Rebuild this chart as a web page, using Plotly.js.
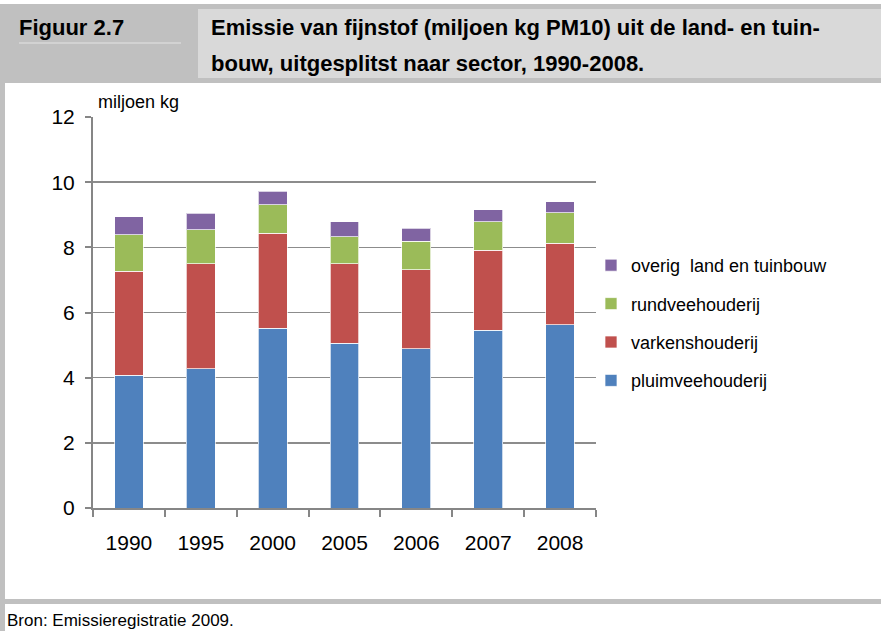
<!DOCTYPE html>
<html>
<head>
<meta charset="utf-8">
<script src="https://cdn.plot.ly/plotly-3.0.1.min.js"></script>
<style>
  html, body { margin: 0; padding: 0; background: #ffffff; }
  #chart { width: 881px; height: 631px; }
</style>
</head>
<body>
<div id="chart"></div>
<script>
// Emissie van fijnstof (miljoen kg PM10) per sector
const years = ['1990', '1995', '2000', '2005', '2006', '2007', '2008'];
const pluimvee = [4.08, 4.27, 5.51, 5.06, 4.89, 5.46, 5.62];
const varkens  = [3.18, 3.23, 2.93, 2.44, 2.42, 2.45, 2.51];
const rundvee  = [1.12, 1.04, 0.86, 0.83, 0.87, 0.88, 0.93];
const overig   = [0.56, 0.51, 0.42, 0.46, 0.41, 0.36, 0.34];
const seriesNames = ['pluimveehouderij', 'varkenshouderij', 'rundveehouderij', 'overig  land en tuinbouw'];
const seriesColors = ['#4F81BD', '#C0504D', '#9BBB59', '#8064A2'];
const yTicks = [0, 2, 4, 6, 8, 10, 12];

const W = 881, H = 631;
const M = { l: 93, r: 285, t: 117, b: 123 };
const PW = W - M.l - M.r, PH = H - M.t - M.b;
// pixel -> paper coordinates
const px = x => (x - M.l) / PW;
const py = y => 1 - (y - M.t) / PH;

const FONT = '"Liberation Sans Narrow", "Liberation Sans", Arial, sans-serif';

const values = [pluimvee, varkens, rundvee, overig];
const traces = values.map((v, i) => ({
  type: 'bar',
  name: seriesNames[i],
  x: years,
  y: v,
  legendgroup: 'g' + i,
  legendrank: 4 - i,   // top series first in the legend
  marker: { color: seriesColors[i], line: { color: 'rgba(255,255,255,0.7)', width: 1 } },
  hoverinfo: 'x+y+name'
}));

const rect = (x0, y0, x1, y1, color) => ({
  type: 'rect', xref: 'paper', yref: 'paper', layer: 'below',
  x0: px(x0), x1: px(x1), y0: py(y0), y1: py(y1),
  fillcolor: color, line: { width: 0 }
});

const shapes = [
  rect(0, 4, 881, 83, '#c0c0c0'),        // header band
  rect(198, 9, 881, 78, '#d9d9d9'),      // title box
  rect(0, 83, 5, 631, '#c0c0c0'),        // left border
  rect(0, 599, 881, 604, '#c0c0c0'),     // bottom band
  { type: 'line', xref: 'paper', yref: 'paper', x0: px(19), x1: px(181), y0: py(43), y1: py(43),
    line: { color: '#e4e4e4', width: 1 } }
];

const txt = (text, x, y, size, bold, anchor) => ({
  xref: 'paper', yref: 'paper', x: px(x), y: py(y), xanchor: anchor || 'left', yanchor: 'middle',
  showarrow: false, text: bold ? '<b>' + text + '</b>' : text,
  font: { family: FONT, size: size, color: '#000000' }
});

const annotations = [
  txt('Figuur 2.7', 17, 28, 22, true),
  txt('Emissie van fijnstof (miljoen kg PM10) uit de land- en tuin-', 209, 28, 22, true),
  txt('bouw, uitgesplitst naar sector, 1990-2008.', 209, 63, 22, true),
  txt('miljoen kg', 96, 102, 18, false),
  txt('Bron: Emissieregistratie 2009.', 5, 620, 17, false)
];

const layout = {
  width: W, height: H,
  margin: M,
  paper_bgcolor: '#ffffff',
  plot_bgcolor: 'rgba(0,0,0,0)',
  barmode: 'stack',
  bargap: 0.6,
  showlegend: true,
  legend: {
    x: px(591), y: py(247), xanchor: 'left', yanchor: 'top',
    traceorder: 'grouped',
    tracegroupgap: 12,
    font: { family: FONT, size: 18, color: '#000000' },
    bgcolor: 'rgba(0,0,0,0)',
    itemclick: false
  },
  xaxis: {
    type: 'category',
    showline: true, linecolor: '#868686', linewidth: 2,
    ticks: 'outside', ticklen: 7, tickcolor: '#868686', tickwidth: 2,
    tickson: 'boundaries',
    tickfont: { family: FONT, size: 21, color: '#000000' },
    ticklabelstandoff: 15,
    showgrid: false
  },
  yaxis: {
    range: [0, 12], tickvals: yTicks, ticktext: yTicks.map(String),
    showline: true, linecolor: '#868686', linewidth: 2,
    ticks: 'outside', ticklen: 6, tickcolor: '#868686', tickwidth: 2,
    showgrid: true, gridcolor: '#8c8c8c', gridwidth: 1.5,
    zeroline: false,
    tickfont: { family: FONT, size: 21, color: '#000000' },
    ticklabelstandoff: 6
  },
  shapes: shapes,
  annotations: annotations
};

Plotly.newPlot('chart', traces, layout, { displayModeBar: false, staticPlot: true });
</script>
</body>
</html>
